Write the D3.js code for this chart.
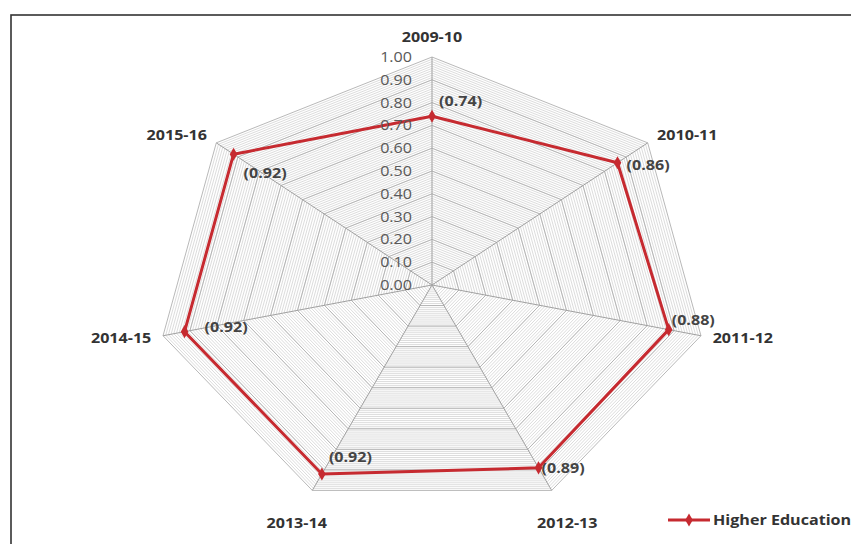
<!DOCTYPE html>
<html>
<head>
<meta charset="utf-8">
<script src="https://cdn.jsdelivr.net/npm/d3@7"></script>
<style>
  html, body { margin: 0; padding: 0; background: #fff; }
  svg { display: block; font-family: "Open Sans", sans-serif; }
</style>
</head>
<body>
<div id="chart"></div>
<script>
const years = ["2009-10", "2010-11", "2011-12", "2012-13", "2013-14", "2014-15", "2015-16"];
const values = [0.74, 0.86, 0.88, 0.89, 0.92, 0.92, 0.92];
const ticks = [0, 0.1, 0.2, 0.3, 0.4, 0.5, 0.6, 0.7, 0.8, 0.9, 1.0];
const seriesName = "Higher Education";

// nudges for the value labels, in px (Excel placed them by hand-ish)
const labelNudge = [[7, -15], [9, 2], [3, -10], [3, 0], [7, -17], [20, -5], [10, 19]];

const W = 851, H = 544;
const cx = 432, cy = 285;
const stretch = 1.21;      // the picture is wider than tall
const textStretch = 1.15;
const red = "#c62a30";

const svg = d3.select("#chart")
    .append("svg")
    .attr("width", W)
    .attr("height", H);

svg.append("rect")
    .attr("x", 11)
    .attr("y", 15)
    .attr("width", W + 20)
    .attr("height", H)
    .attr("fill", "#fff")
    .attr("stroke", "#333")
    .attr("stroke-width", 1.6);

const r = d3.scaleLinear().domain([0, 1]).range([0, 228]);
const angle = d3.scaleLinear().domain([0, years.length]).range([0, 2 * Math.PI]);

function pos(i, v) {
    const a = angle(i);
    return [cx + r(v) * Math.sin(a) * stretch, cy - r(v) * Math.cos(a)];
}

const plot = svg.append("g")
    .attr("transform", `translate(${cx},${cy}) scale(${stretch},1)`);

const ring = d3.lineRadial()
    .angle((d, i) => angle(i))
    .radius(d => r(d))
    .curve(d3.curveLinearClosed);

// minor gridlines
const minor = d3.range(1, 100).map(k => k / 100);
plot.selectAll(".minor")
    .data(minor)
    .enter()
    .append("path")
    .attr("class", "minor")
    .attr("d", v => ring(years.map(() => v)))
    .attr("fill", "none")
    .attr("stroke", "#cdcdcd")
    .attr("stroke-width", 0.7)
    .attr("vector-effect", "non-scaling-stroke");

// major gridlines
plot.selectAll(".major")
    .data(ticks.slice(1))
    .enter()
    .append("path")
    .attr("class", "major")
    .attr("d", v => ring(years.map(() => v)))
    .attr("fill", "none")
    .attr("stroke", "#b0b0b0")
    .attr("stroke-width", 0.9)
    .attr("vector-effect", "non-scaling-stroke");

// spokes
plot.selectAll(".spoke")
    .data(years)
    .enter()
    .append("line")
    .attr("class", "spoke")
    .attr("x1", 0)
    .attr("y1", 0)
    .attr("x2", (d, i) => r(1) * Math.sin(angle(i)))
    .attr("y2", (d, i) => -r(1) * Math.cos(angle(i)))
    .attr("stroke", "#a0a0a0")
    .attr("stroke-width", 1)
    .attr("vector-effect", "non-scaling-stroke");

// series line
plot.append("path")
    .attr("d", ring(values))
    .attr("fill", "none")
    .attr("stroke", red)
    .attr("stroke-width", 3)
    .attr("stroke-linejoin", "round")
    .attr("vector-effect", "non-scaling-stroke");

// markers
const diamond = d3.symbol().type(d3.symbolDiamond).size(50);
svg.selectAll(".marker")
    .data(values)
    .enter()
    .append("path")
    .attr("class", "marker")
    .attr("d", diamond)
    .attr("transform", (d, i) => `translate(${pos(i, d)})`)
    .attr("fill", red);

// tick labels along the first axis
svg.selectAll(".tick-label")
    .data(ticks)
    .enter()
    .append("text")
    .attr("class", "tick-label")
    .attr("transform", d => `translate(${cx - 20},${cy - r(d)}) scale(${textStretch},1)`)
    .attr("text-anchor", "end")
    .attr("dy", "0.35em")
    .attr("fill", "#595959")
    .style("font-size", "14px")
    .text(d => d3.format(".2f")(d));

// category labels
svg.selectAll(".cat-label")
    .data(years)
    .enter()
    .append("text")
    .attr("class", "cat-label")
    .attr("transform", (d, i) => {
        const a = angle(i);
        const s = Math.sin(a), c = Math.cos(a);
        let dist = 12;
        if (Math.abs(s) < 0.5) dist = c > 0 ? 20 : 36;
        const [x, y] = pos(i, 1);
        return `translate(${x + s * dist},${y - c * dist}) scale(${textStretch},1)`;
    })
    .attr("text-anchor", (d, i) => {
        const s = Math.sin(angle(i));
        return Math.abs(s) < 0.5 ? "middle" : (s > 0 ? "start" : "end");
    })
    .attr("dy", "0.35em")
    .attr("fill", "#333")
    .style("font-size", "14px")
    .style("font-weight", "bold")
    .text(d => d);

// value labels
svg.selectAll(".val-label")
    .data(values)
    .enter()
    .append("text")
    .attr("class", "val-label")
    .attr("transform", (d, i) => {
        const [x, y] = pos(i, d);
        return `translate(${x + labelNudge[i][0]},${y + labelNudge[i][1]}) scale(${textStretch},1)`;
    })
    .attr("dy", "0.35em")
    .attr("fill", "#444")
    .style("font-size", "14px")
    .style("font-weight", "bold")
    .text(d => `(${d3.format(".2f")(d)})`);

// legend
const legend = svg.append("g")
    .attr("transform", "translate(668,520)");

legend.append("line")
    .attr("x1", 0)
    .attr("x2", 42)
    .attr("stroke", red)
    .attr("stroke-width", 3);

legend.append("path")
    .attr("d", diamond)
    .attr("transform", "translate(21,0)")
    .attr("fill", red);

legend.append("text")
    .attr("transform", `translate(45,0) scale(${textStretch},1)`)
    .attr("dy", "0.35em")
    .attr("fill", "#333")
    .style("font-size", "14px")
    .style("font-weight", "bold")
    .text(seriesName);
</script>
</body>
</html>
